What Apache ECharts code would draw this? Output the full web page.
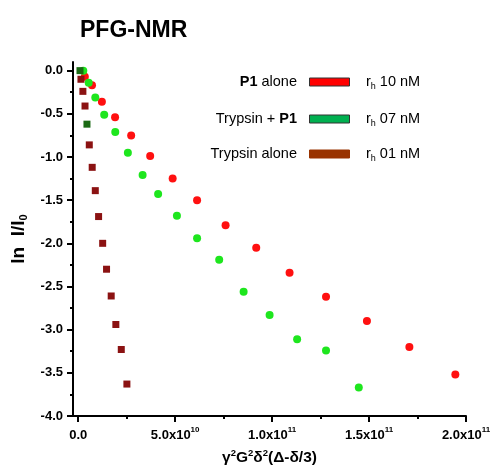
<!DOCTYPE html>
<html>
<head>
<meta charset="utf-8">
<script src="https://cdn.jsdelivr.net/npm/echarts@6/dist/echarts.min.js"></script>
<style>html,body{margin:0;padding:0;background:#fff;}#c{width:495px;height:466px;}</style>
</head>
<body>
<div id="c"></div>
<script>
// ---- data ----
const p1X = [3.4e9, 7.1e9, 1.22e10, 1.9e10, 2.73e10, 3.71e10, 4.87e10, 6.13e10, 7.6e10, 9.18e10, 1.09e11, 1.278e11, 1.489e11, 1.708e11, 1.945e11];
const p1Y = [-0.07, -0.17, -0.36, -0.54, -0.75, -0.99, -1.25, -1.50, -1.79, -2.05, -2.34, -2.62, -2.90, -3.20, -3.52];
const tpX = [2.6e9, 5.4e9, 8.8e9, 1.34e10, 1.91e10, 2.56e10, 3.32e10, 4.12e10, 5.09e10, 6.13e10, 7.27e10, 8.53e10, 9.87e10, 1.129e11, 1.278e11, 1.447e11];
const tpY = [0.0, -0.14, -0.31, -0.51, -0.71, -0.95, -1.21, -1.43, -1.68, -1.94, -2.19, -2.56, -2.83, -3.11, -3.24, -3.67];
const trX = [0.9e9, 1.4e9, 2.4e9, 3.5e9, 4.5e9, 5.7e9, 7.2e9, 8.8e9, 1.05e10, 1.26e10, 1.46e10, 1.70e10, 1.94e10, 2.22e10, 2.51e10];
const trY = [0.0, -0.10, -0.24, -0.41, -0.62, -0.86, -1.12, -1.39, -1.69, -2.00, -2.30, -2.61, -2.94, -3.23, -3.63];

const xTickVals = [0, 5e10, 1e11, 1.5e11, 2e11];
const xTickMant = ['0.0', '5.0x10', '1.0x10', '1.5x10', '2.0x10'];
const xTickExp = ['', '10', '11', '11', '11'];
const xMinorVals = [2.5e10, 7.5e10, 1.25e11, 1.75e11];
const yTickVals = [-4, -3.5, -3, -2.5, -2, -1.5, -1, -0.5, 0];
const yTickLabels = ['-4.0', '-3.5', '-3.0', '-2.5', '-2.0', '-1.5', '-1.0', '-0.5', '0.0'];
const yMinorVals = [-3.75, -3.25, -2.75, -2.25, -1.75, -1.25, -0.75, -0.25];

const seriesNames = ['P1 alone', 'Trypsin + P1', 'Trypsin alone'];
const radii = ['10', '07', '01'];
const overlapIdx = [0, 4];

const zip = (a, b) => a.map((v, i) => [v, b[i]]);
const FF = '"Liberation Sans", Arial, sans-serif';

const chart = echarts.init(document.getElementById('c'));
const xMin = -2.7e9, xMax = 2.0e11, yMin = -4, yMax = 0.1;

const commonX = {
  type: 'value', min: xMin, max: xMax, gridIndex: 0, position: 'bottom',
  splitLine: { show: false }
};
const commonY = {
  type: 'value', min: yMin, max: yMax, gridIndex: 0, position: 'left',
  splitLine: { show: false }
};

const legendRows = [82, 119, 154];
const legendFill = ['#ff0000', '#00b050', '#993300'];
const legendStroke = ['#333', '#333', '#993300'];
const legendText = ['{b|P1} alone', 'Trypsin + {b|P1}', 'Trypsin alone'];

const graphics = [];
legendRows.forEach((y, i) => {
  graphics.push({
    type: 'text', z: 10,
    style: {
      text: legendText[i], x: 297, y: y, align: 'right', verticalAlign: 'middle',
      fontSize: 14.5, fontFamily: FF, fill: '#000',
      rich: { b: { fontWeight: 'bold', fontSize: 14.5, fontFamily: FF } }
    }
  });
  graphics.push({
    type: 'rect', z: 10,
    shape: { x: 309.5, y: y - 4, width: 40, height: 8 },
    style: { fill: legendFill[i], stroke: legendStroke[i], lineWidth: 1 }
  });
  graphics.push({
    type: 'text', z: 10,
    style: {
      text: '{n|r}{s|h}{n| ' + radii[i] + ' nM}', x: 366, y: y, align: 'left', verticalAlign: 'middle',
      fontSize: 14.5, fontFamily: FF, fill: '#000',
      rich: {
        n: { fontSize: 14.5, fontFamily: FF, lineHeight: 18, verticalAlign: 'middle' },
        s: { fontSize: 9, fontFamily: FF, lineHeight: 18, verticalAlign: 'bottom' }
      }
    }
  });
});

chart.setOption({
  animation: false,
  backgroundColor: '#fff',
  title: {
    text: 'PFG-NMR', left: 75, top: 14,
    textStyle: { fontSize: 23, fontWeight: 'bold', fontFamily: FF, color: '#000' }
  },
  grid: { left: 73, right: 29, top: 62, bottom: 50, containLabel: false, outerBoundsMode: 'none' },
  xAxis: [
    Object.assign({}, commonX, {
      axisLine: { show: true, onZero: false, lineStyle: { color: '#000', width: 2 } },
      axisTick: { show: true, length: 6, lineStyle: { color: '#000', width: 2 }, customValues: xTickVals },
      axisLabel: {
        show: true, margin: 10, customValues: xTickVals,
        formatter: (v) => {
          const i = xTickVals.findIndex(t => Math.abs(t - v) < 1e6);
          if (i < 0) return '';
          return xTickExp[i] ? '{b|' + xTickMant[i] + '}{s|' + xTickExp[i] + '}' : '{b|' + xTickMant[i] + '}';
        },
        rich: {
          b: { fontSize: 13, fontWeight: 'bold', fontFamily: FF, color: '#000', lineHeight: 16, verticalAlign: 'bottom' },
          s: { fontSize: 8, fontWeight: 'bold', fontFamily: FF, color: '#000', lineHeight: 16, verticalAlign: 'top' }
        }
      },
      name: '{g|γ}{s|2}{g|G}{s|2}{g|δ}{s|2}{g|(Δ-δ/3)}',
      nameLocation: 'middle', nameGap: 32,
      nameTextStyle: {
        rich: {
          g: { fontSize: 15.5, fontWeight: 'bold', fontFamily: FF, color: '#000', lineHeight: 18, verticalAlign: 'bottom' },
          s: { fontSize: 9.5, fontWeight: 'bold', fontFamily: FF, color: '#000', lineHeight: 18, verticalAlign: 'top' }
        }
      }
    }),
    Object.assign({}, commonX, {
      axisLine: { show: false, onZero: false },
      axisTick: { show: true, length: 3, lineStyle: { color: '#000', width: 2 }, customValues: xMinorVals },
      axisLabel: { show: false }
    })
  ],
  yAxis: [
    Object.assign({}, commonY, {
      axisLine: { show: true, onZero: false, lineStyle: { color: '#000', width: 2 } },
      axisTick: { show: true, length: 6, lineStyle: { color: '#000', width: 2 }, customValues: yTickVals },
      axisLabel: {
        show: true, margin: 10, customValues: yTickVals,
        fontSize: 13, fontWeight: 'bold', fontFamily: FF, color: '#000',
        formatter: (v) => {
          const i = yTickVals.findIndex(t => Math.abs(t - v) < 1e-6);
          return i < 0 ? '' : yTickLabels[i];
        }
      },
      name: '{g|ln  I/I}{s|0}',
      nameLocation: 'middle', nameGap: 41, nameRotate: 90,
      nameTextStyle: {
        rich: {
          g: { fontSize: 19, fontWeight: 'bold', fontFamily: FF, color: '#000', lineHeight: 20, verticalAlign: 'top' },
          s: { fontSize: 11, fontWeight: 'bold', fontFamily: FF, color: '#000', lineHeight: 20, verticalAlign: 'bottom' }
        }
      }
    }),
    Object.assign({}, commonY, {
      axisLine: { show: false, onZero: false },
      axisTick: { show: true, length: 3, lineStyle: { color: '#000', width: 2 }, customValues: yMinorVals },
      axisLabel: { show: false }
    })
  ],
  series: [
    {
      name: seriesNames[0], type: 'scatter', xAxisIndex: 0, yAxisIndex: 0,
      symbol: 'circle', symbolSize: 8, data: zip(p1X, p1Y),
      itemStyle: { color: '#ff1010', opacity: 1 }
    },
    {
      name: seriesNames[1], type: 'scatter', xAxisIndex: 0, yAxisIndex: 0,
      symbol: 'circle', symbolSize: 8, data: zip(tpX, tpY),
      itemStyle: { color: '#1ee61e', opacity: 1 }
    },
    {
      name: seriesNames[2], type: 'scatter', xAxisIndex: 0, yAxisIndex: 0,
      symbol: 'rect', symbolSize: 7, data: zip(trX, trY),
      itemStyle: { color: (p) => overlapIdx.includes(p.dataIndex) ? '#1b6a14' : '#8b1212', opacity: 1 }
    }
  ],
  graphic: graphics
});
</script>
</body>
</html>
